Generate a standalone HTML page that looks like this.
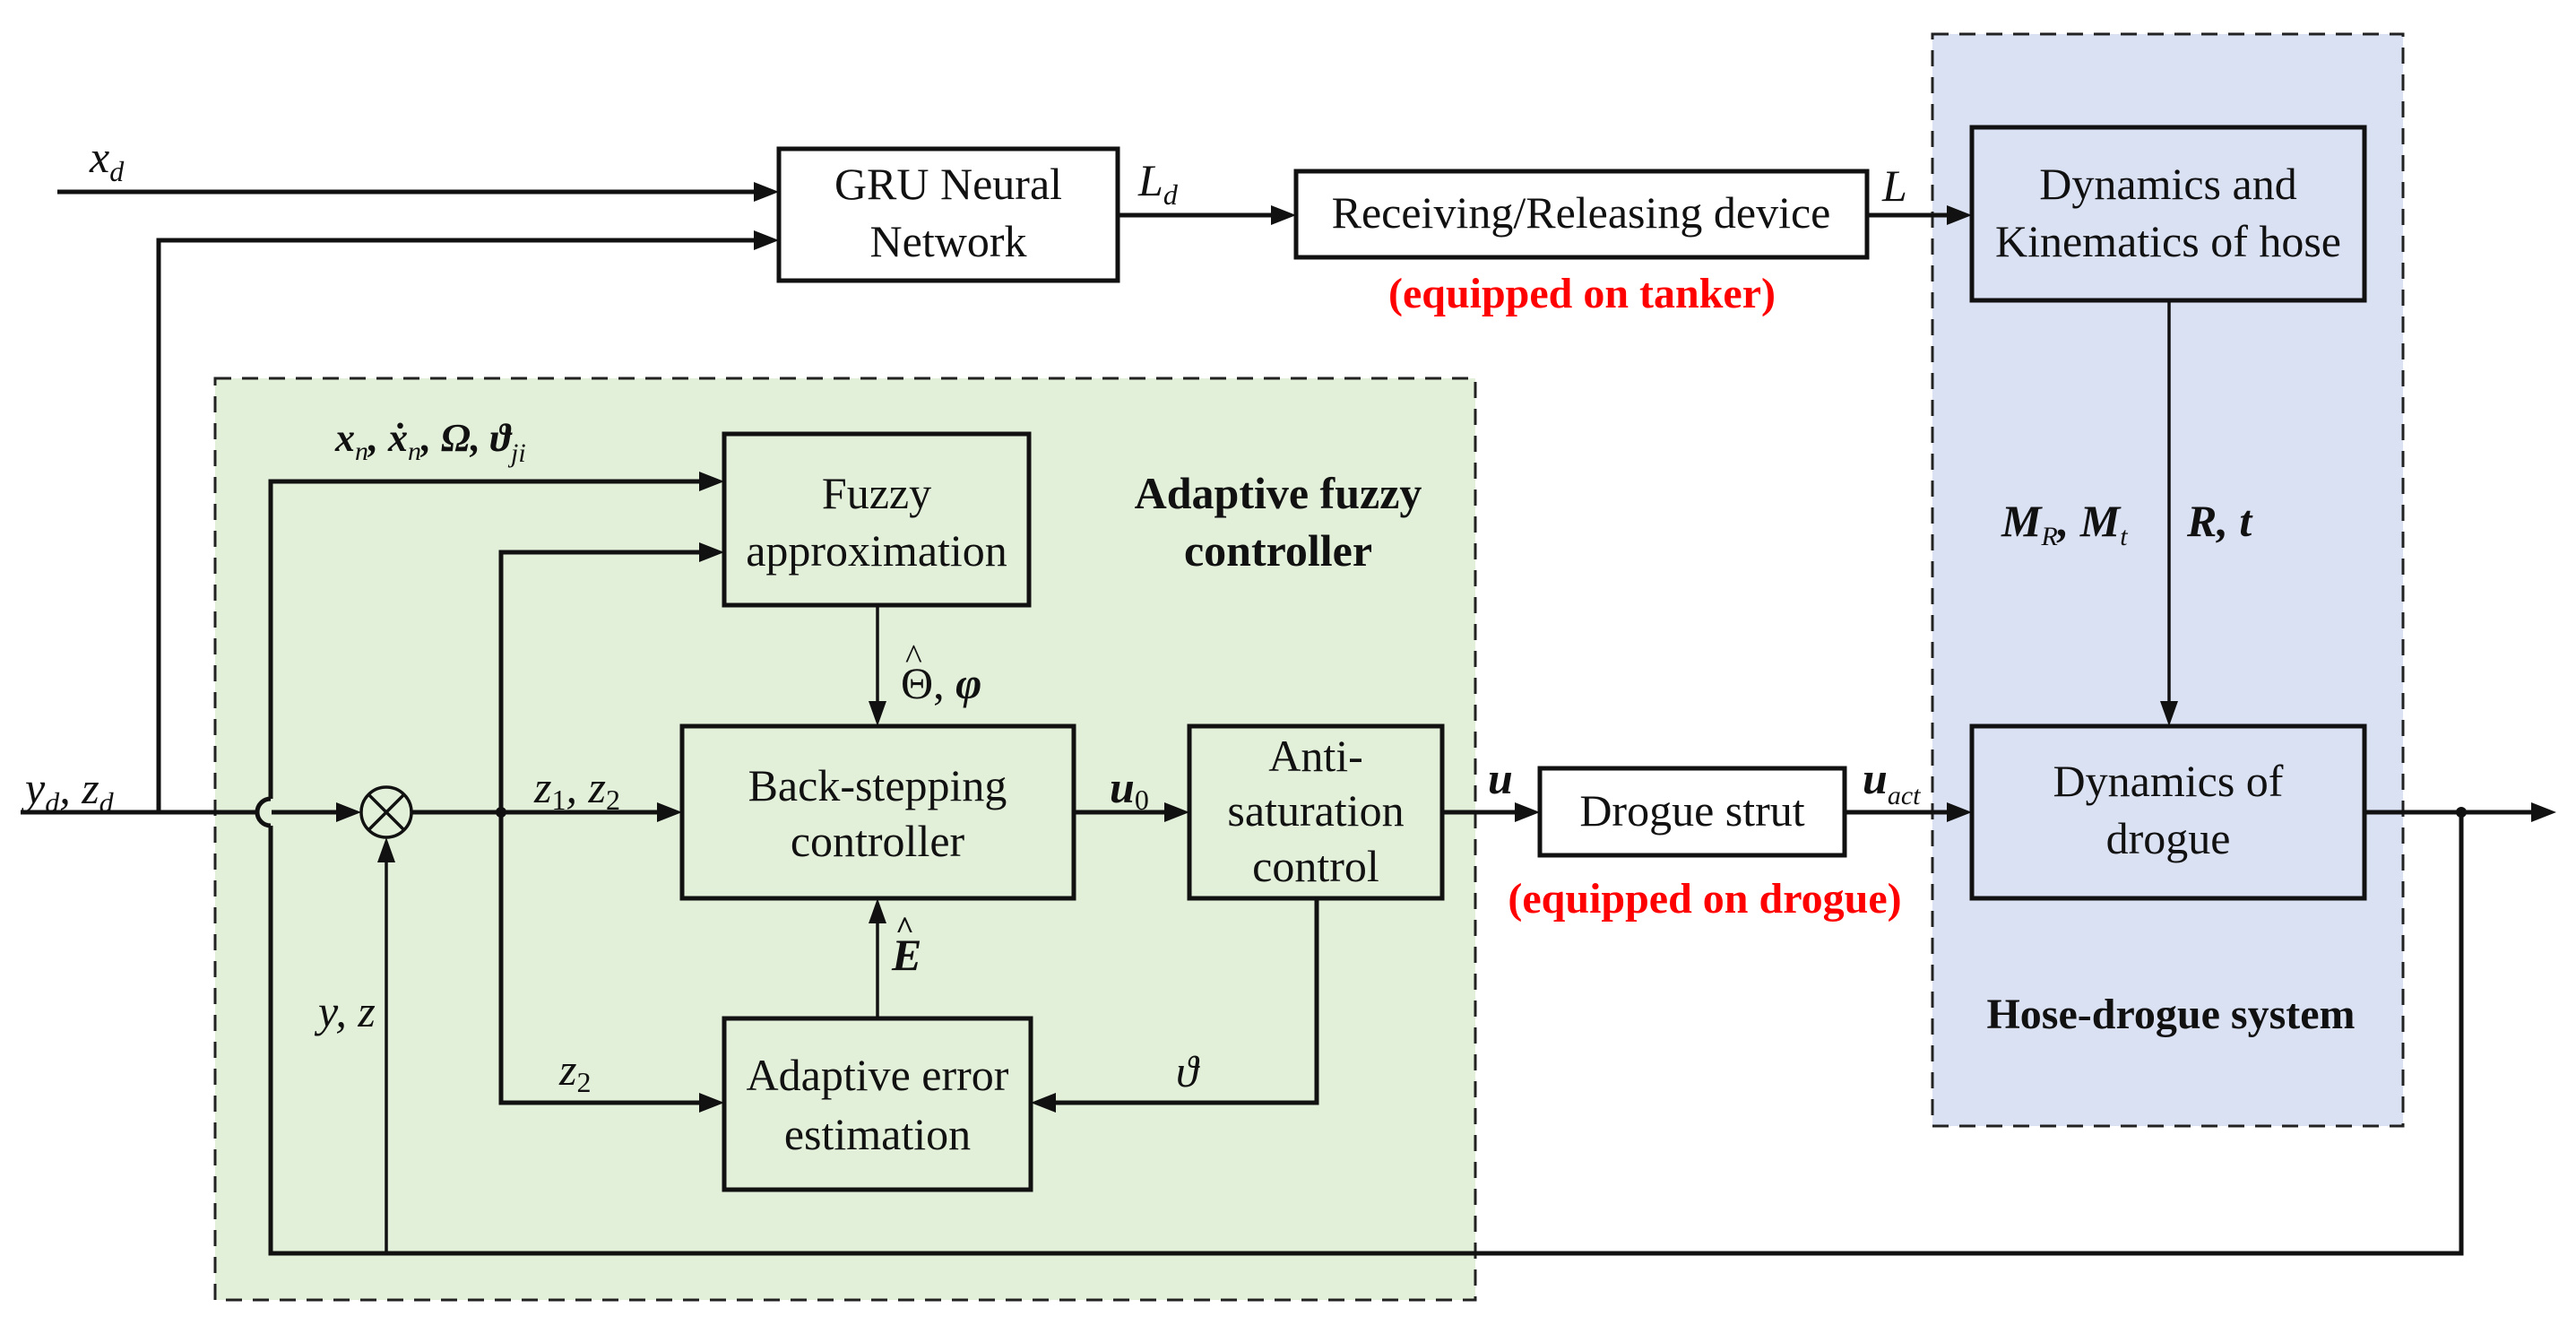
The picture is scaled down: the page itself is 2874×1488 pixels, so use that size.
<!DOCTYPE html>
<html><head><meta charset="utf-8"><style>
html,body{margin:0;padding:0;background:#fff;}
svg{display:block;}
text{font-family:"Liberation Serif",serif;fill:#111;}
.t{font-size:50px;text-anchor:middle;}
.m{font-style:italic;font-size:50px;}
.b{font-weight:bold;}
.r{fill:#f00;font-weight:bold;font-size:48px;text-anchor:middle;}
</style></head><body>
<svg width="2874" height="1488" viewBox="0 0 2874 1488" xmlns="http://www.w3.org/2000/svg">
<rect x="240" y="422" width="1406" height="1028" fill="#e2efd9" stroke="#222" stroke-width="3" stroke-dasharray="18,12"/>
<rect x="2156" y="38" width="525" height="1218" fill="#dae1f3" stroke="#222" stroke-width="3" stroke-dasharray="18,12"/>

<g fill="none" stroke="#111" stroke-width="5">
<rect x="869" y="166" width="378" height="147" fill="#fff"/>
<rect x="1446" y="191" width="637" height="96" fill="#fff"/>
<rect x="2200" y="142" width="438" height="193"/>
<rect x="808" y="484" width="340" height="191"/>
<rect x="761" y="810" width="437" height="192"/>
<rect x="1327" y="810" width="282" height="192"/>
<rect x="808" y="1136" width="342" height="191"/>
<rect x="1718" y="857" width="340" height="97" fill="#fff"/>
<rect x="2200" y="810" width="438" height="192"/>
</g>

<g fill="none" stroke="#111" stroke-width="5">
<line x1="64" y1="214" x2="845" y2="214"/>
<polyline points="177,906 177,268 845,268"/>
<line x1="1247" y1="240" x2="1425" y2="240"/>
<line x1="2083" y1="240" x2="2178" y2="240"/>
<line x1="23" y1="906" x2="288" y2="906"/>
<line x1="303" y1="906" x2="380" y2="906"/>
<line x1="459" y1="906" x2="740" y2="906"/>
<line x1="1198" y1="906" x2="1305" y2="906"/>
<line x1="1609" y1="906" x2="1697" y2="906"/>
<line x1="2058" y1="906" x2="2178" y2="906"/>
<line x1="2638" y1="906" x2="2825" y2="906"/>
<polyline points="2746,906 2746,1398 302,1398 302,921"/>
<path d="M302,921 A15,15 0 0 1 302,891"/>
<polyline points="302,891 302,537 787,537"/>
<polyline points="787,616 559,616 559,1230 787,1230"/>
<polyline points="1469,1002 1469,1230 1172,1230"/>
</g>
<g fill="none" stroke="#111" stroke-width="3.5">
<line x1="431" y1="1398" x2="431" y2="955"/>
<line x1="979" y1="675" x2="979" y2="788"/>
<line x1="979" y1="1136" x2="979" y2="1024"/>
<line x1="2420" y1="335" x2="2420" y2="788"/>
<circle cx="431" cy="906" r="28" fill="none"/>
<line x1="411" y1="886" x2="451" y2="926"/>
<line x1="451" y1="886" x2="411" y2="926"/>
</g>
<g fill="#111">
<circle cx="559" cy="906" r="6"/>
<circle cx="2746" cy="906" r="6"/>
<polygon points="869,214 841,203 841,225"/>
<polygon points="869,268 841,257 841,279"/>
<polygon points="1446,240 1418,229 1418,251"/>
<polygon points="2200,240 2172,229 2172,251"/>
<polygon points="808,537 780,526 780,548"/>
<polygon points="808,616 780,605 780,627"/>
<polygon points="403,906 375,895 375,917"/>
<polygon points="761,906 733,895 733,917"/>
<polygon points="1327,906 1299,895 1299,917"/>
<polygon points="1718,906 1690,895 1690,917"/>
<polygon points="2200,906 2172,895 2172,917"/>
<polygon points="2852,906 2824,895 2824,917"/>
<polygon points="808,1230 780,1219 780,1241"/>
<polygon points="1150,1230 1178,1219 1178,1241"/>
<polygon points="979,810 969,782 989,782"/>
<polygon points="979,1002 969,1030 989,1030"/>
<polygon points="2420,810 2410,782 2430,782"/>
<polygon points="431,934 421,962 441,962"/>
</g>

<text class="t" x="1058" y="222">GRU Neural</text>
<text class="t" x="1058" y="286">Network</text>
<text class="t" x="1764" y="254">Receiving/Releasing device</text>
<text class="t" x="2419" y="222">Dynamics and</text>
<text class="t" x="2419" y="286">Kinematics of hose</text>
<text class="t" x="978" y="567">Fuzzy</text>
<text class="t" x="978" y="631">approximation</text>
<text class="t" x="979" y="893">Back-stepping</text>
<text class="t" x="979" y="955">controller</text>
<text class="t" x="1468" y="860">Anti-</text>
<text class="t" x="1468" y="921">saturation</text>
<text class="t" x="1468" y="983">control</text>
<text class="t" x="979" y="1216">Adaptive error</text>
<text class="t" x="979" y="1282">estimation</text>
<text class="t" x="1888" y="921">Drogue strut</text>
<text class="t" x="2419" y="888">Dynamics of</text>
<text class="t" x="2419" y="952">drogue</text>

<text class="t b" x="1426" y="567">Adaptive fuzzy</text>
<text class="t b" x="1426" y="631">controller</text>
<text class="t b" x="2422" y="1147" style="font-size:48px">Hose-drogue system</text>
<text class="r" x="1765" y="343">(equipped on tanker)</text>
<text class="r" x="1902" y="1018">(equipped on drogue)</text>

<text class="m" x="100" y="192">x<tspan font-size="32" dy="10">d</tspan></text>
<text class="m" x="1270" y="218">L<tspan font-size="32" dy="10">d</tspan></text>
<text class="m" x="2100" y="224">L</text>
<text class="m" x="28" y="896">y<tspan font-size="32" dy="10">d</tspan><tspan dy="-10">, z</tspan><tspan font-size="32" dy="10">d</tspan></text>
<text class="m b" x="374" y="503" style="font-size:44px">x<tspan font-size="30" font-weight="normal" dy="10">n</tspan><tspan dy="-10">, ẋ</tspan><tspan font-size="30" font-weight="normal" dy="10">n</tspan><tspan dy="-10">, Ω, ϑ</tspan><tspan font-size="30" font-weight="normal" dy="12">ji</tspan></text>
<text class="m" x="596" y="895">z<tspan font-size="32" font-style="normal" dy="8">1</tspan><tspan dy="-8">, z</tspan><tspan font-size="32" font-style="normal" dy="8">2</tspan></text>
<text class="m b" x="1238" y="895">u<tspan font-size="32" font-style="normal" font-weight="normal" dy="8">0</tspan></text>
<text x="1005" y="779" style="font-size:50px">Θ, <tspan font-style="italic" font-weight="bold">φ</tspan></text>
<text x="1010" y="746" style="font-size:40px">^</text>
<text class="m b" x="995" y="1082">E</text>
<text x="999" y="1047" style="font-size:36px;font-weight:bold">^</text>
<text class="m" x="355" y="1145">y, z</text>
<text class="m" x="624" y="1210">z<tspan font-size="32" font-style="normal" dy="8">2</tspan></text>
<text class="m" x="1312" y="1212">ϑ</text>
<text class="m b" x="1660" y="885">u</text>
<text class="m b" x="2078" y="885">u<tspan font-size="30" font-weight="normal" dy="12">act</tspan></text>
<text class="m b" x="2233" y="598">M<tspan font-size="30" font-weight="normal" dy="10">R</tspan><tspan dy="-10">, M</tspan><tspan font-size="30" font-weight="normal" dy="10">t</tspan></text>
<text class="m b" x="2440" y="598">R, t</text>
</svg>
</body></html>
